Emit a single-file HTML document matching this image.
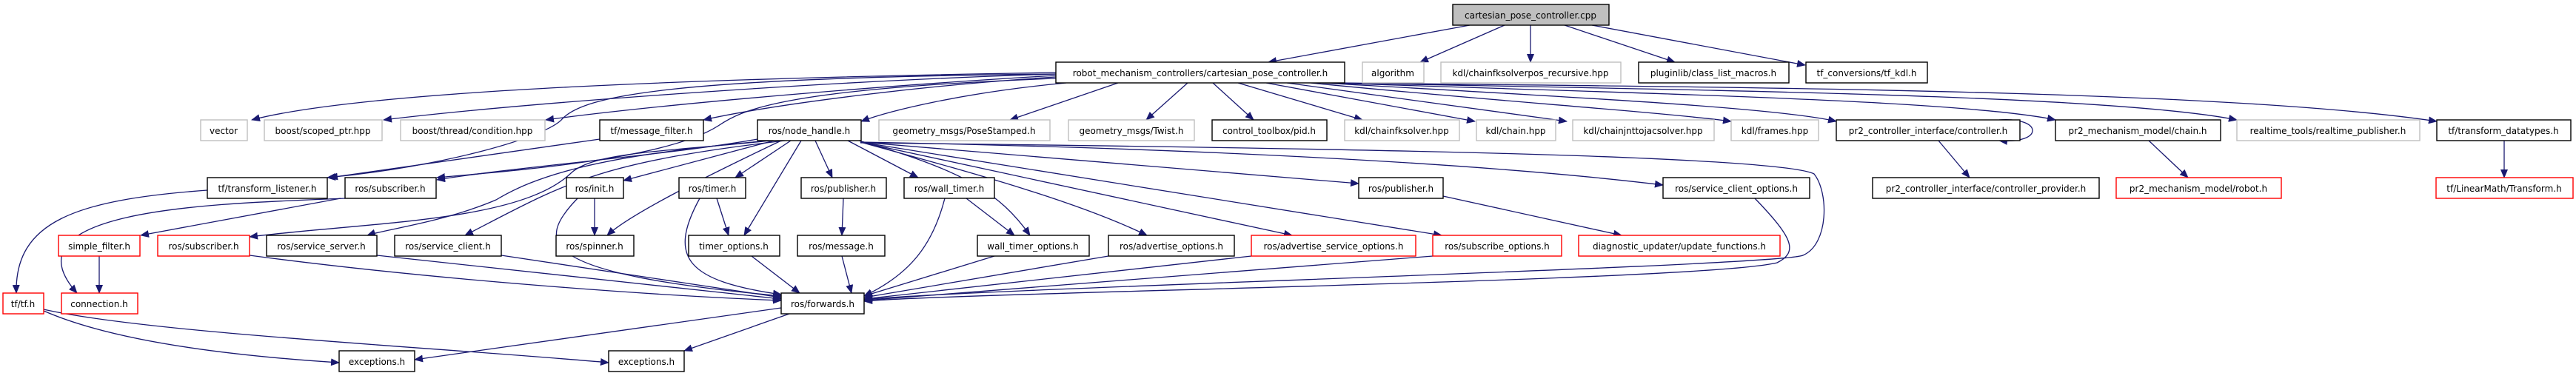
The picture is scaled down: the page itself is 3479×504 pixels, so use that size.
<!DOCTYPE html>
<html><head><meta charset="utf-8"><style>
html,body{margin:0;padding:0;background:#fff;}
svg{display:block;}
text{font-family:"DejaVu Sans","Liberation Sans",sans-serif;font-size:12px;fill:#000;text-anchor:middle;}
.b{fill:#fff;stroke:#000;stroke-width:1.4;}
.g{fill:#fff;stroke:#bfbfbf;stroke-width:1.4;}
.r{fill:#fff;stroke:#ff0000;stroke-width:1.4;}
.e path{fill:none;stroke:#191970;stroke-width:1.3;}
</style></head><body>
<svg width="3479" height="504" viewBox="0 0 3479 504" xmlns="http://www.w3.org/2000/svg">
<defs><marker id="a" markerUnits="userSpaceOnUse" markerWidth="12" markerHeight="10" refX="11" refY="5" orient="auto"><path d="M0,0 L12,5 L0,10 z" fill="#191970"/></marker></defs>
<g class="e">
<path d="M1985,34 L1713,84" marker-end="url(#a)"/>
<path d="M2032,34 L1918,84" marker-end="url(#a)"/>
<path d="M2067,34 L2067,84" marker-end="url(#a)"/>
<path d="M2113,34 L2262,84" marker-end="url(#a)"/>
<path d="M2150,34 L2438,88" marker-end="url(#a)"/>
<path d="M1426,98 C1000,105 500,120 340,162" marker-end="url(#a)"/>
<path d="M1426,100 C1100,110 700,140 518,162" marker-end="url(#a)"/>
<path d="M1426,102 C1200,115 900,140 737,162" marker-end="url(#a)"/>
<path d="M1426,104 C1250,115 1050,140 950,162" marker-end="url(#a)"/>
<path d="M1440,112 C1300,125 1200,150 1163,164" marker-end="url(#a)"/>
<path d="M1426,100 C900,105 790,130 760,160 C740,185 600,225 442,240" marker-end="url(#a)"/>
<path d="M1426,106 C1050,120 1000,150 970,170 C900,215 700,230 590,240" marker-end="url(#a)"/>
<path d="M1510,112 L1364,162" marker-end="url(#a)"/>
<path d="M1604,112 L1548,162" marker-end="url(#a)"/>
<path d="M1638,112 L1693,162" marker-end="url(#a)"/>
<path d="M1672,112 L1840,162" marker-end="url(#a)"/>
<path d="M1710,112 L1992,164" marker-end="url(#a)"/>
<path d="M1738,112 L2116,164" marker-end="url(#a)"/>
<path d="M1770,112 C2000,135 2250,152 2338,164" marker-end="url(#a)"/>
<path d="M1785,112 C2100,130 2400,145 2480,164" marker-end="url(#a)"/>
<path d="M1795,112 C2200,126 2650,135 2776,162" marker-end="url(#a)"/>
<path d="M1805,112 C2300,122 2850,128 3021,162" marker-end="url(#a)"/>
<path d="M1812,112 C2300,118 3000,120 3291,164" marker-end="url(#a)"/>
<path d="M1023,188 C900,210 700,225 590,243" marker-end="url(#a)"/>
<path d="M1040,190 C900,205 800,205 770,235 C700,300 500,300 337,320" marker-end="url(#a)"/>
<path d="M1040,190 C800,210 720,240 670,270 C600,300 520,310 496,318" marker-end="url(#a)"/>
<path d="M1060,190 C800,220 760,250 628,318" marker-end="url(#a)"/>
<path d="M1045,190 L842,244" marker-end="url(#a)"/>
<path d="M1055,190 C950,240 850,290 820,318" marker-end="url(#a)"/>
<path d="M1068,190 L993,240" marker-end="url(#a)"/>
<path d="M1082,190 L1005,318" marker-end="url(#a)"/>
<path d="M1101,190 L1124,240" marker-end="url(#a)"/>
<path d="M1145,190 L1240,240" marker-end="url(#a)"/>
<path d="M1160,190 C1300,230 1350,260 1391,318" marker-end="url(#a)"/>
<path d="M1162,192 C1300,230 1450,270 1549,318" marker-end="url(#a)"/>
<path d="M1162,192 L1745,318" marker-end="url(#a)"/>
<path d="M1162,192 L1947,318" marker-end="url(#a)"/>
<path d="M1162,192 L1835,248" marker-end="url(#a)"/>
<path d="M1162,192 C1600,200 2000,220 2246,250" marker-end="url(#a)"/>
<path d="M1162,193 C1800,200 2400,210 2450,235 C2470,260 2470,330 2435,345 C2400,360 1300,390 1167,405" marker-end="url(#a)"/>
<path d="M810,188 L445,240" marker-end="url(#a)"/>
<path d="M280,257 C100,270 20,300 22,396" marker-end="url(#a)"/>
<path d="M466,268 C300,275 0,280 104,396" marker-end="url(#a)"/>
<path d="M460,268 L190,318" marker-end="url(#a)"/>
<path d="M134,346 L134,396" marker-end="url(#a)"/>
<path d="M337,345 C600,380 900,400 1055,406" marker-end="url(#a)"/>
<path d="M509,345 L1055,404" marker-end="url(#a)"/>
<path d="M677,345 L1055,402" marker-end="url(#a)"/>
<path d="M780,268 C720,330 730,370 1055,400" marker-end="url(#a)"/>
<path d="M803,268 L803,318" marker-end="url(#a)"/>
<path d="M945,268 C900,350 930,380 1055,398" marker-end="url(#a)"/>
<path d="M968,268 L984,318" marker-end="url(#a)"/>
<path d="M1015,346 L1080,396" marker-end="url(#a)"/>
<path d="M1139,268 L1137,318" marker-end="url(#a)"/>
<path d="M1137,346 L1150,396" marker-end="url(#a)"/>
<path d="M1305,268 L1370,318" marker-end="url(#a)"/>
<path d="M1276,268 C1260,330 1230,370 1167,400" marker-end="url(#a)"/>
<path d="M1343,346 L1167,400" marker-end="url(#a)"/>
<path d="M1497,346 L1167,402" marker-end="url(#a)"/>
<path d="M1690,346 L1167,404" marker-end="url(#a)"/>
<path d="M1935,346 L1167,406" marker-end="url(#a)"/>
<path d="M2370,268 C2420,320 2430,340 2400,355 C2300,380 1300,395 1167,407" marker-end="url(#a)"/>
<path d="M1949,265 L2190,318" marker-end="url(#a)"/>
<path d="M1055,416 L560,486" marker-end="url(#a)"/>
<path d="M1066,424 L924,474" marker-end="url(#a)"/>
<path d="M59,420 C150,460 300,480 458,490" marker-end="url(#a)"/>
<path d="M59,418 C200,450 600,470 822,490" marker-end="url(#a)"/>
<path d="M2618,190 L2660,240" marker-end="url(#a)"/>
<path d="M2700,162 C2760,158 2760,195 2700,190" marker-end="url(#a)"/>
<path d="M2902,190 L2955,240" marker-end="url(#a)"/>
<path d="M3382,190 L3382,240" marker-end="url(#a)"/>
</g>
<rect x="1962" y="6" width="211" height="28" fill="#bfbfbf" stroke="#000" stroke-width="1.4"/><text x="2067" y="25">cartesian_pose_controller.cpp</text>
<rect class="b" x="1426" y="84" width="390" height="28"/><text x="1621" y="103">robot_mechanism_controllers/cartesian_pose_controller.h</text>
<rect class="g" x="1840" y="84" width="83" height="28"/><text x="1881" y="103">algorithm</text>
<rect class="g" x="1946" y="84" width="243" height="28"/><text x="2067" y="103">kdl/chainfksolverpos_recursive.hpp</text>
<rect class="b" x="2213" y="84" width="203" height="28"/><text x="2314" y="103">pluginlib/class_list_macros.h</text>
<rect class="b" x="2439" y="84" width="164" height="28"/><text x="2521" y="103">tf_conversions/tf_kdl.h</text>
<rect class="g" x="271" y="162" width="63" height="28"/><text x="302" y="181">vector</text>
<rect class="g" x="357" y="162" width="159" height="28"/><text x="436" y="181">boost/scoped_ptr.hpp</text>
<rect class="g" x="541" y="162" width="195" height="28"/><text x="638" y="181">boost/thread/condition.hpp</text>
<rect class="b" x="810" y="162" width="140" height="28"/><text x="880" y="181">tf/message_filter.h</text>
<rect class="b" x="1023" y="162" width="140" height="28"/><text x="1093" y="181">ros/node_handle.h</text>
<rect class="g" x="1187" y="162" width="231" height="28"/><text x="1302" y="181">geometry_msgs/PoseStamped.h</text>
<rect class="g" x="1443" y="162" width="170" height="28"/><text x="1528" y="181">geometry_msgs/Twist.h</text>
<rect class="b" x="1637" y="162" width="155" height="28"/><text x="1714" y="181">control_toolbox/pid.h</text>
<rect class="g" x="1816" y="162" width="155" height="28"/><text x="1893" y="181">kdl/chainfksolver.hpp</text>
<rect class="g" x="1994" y="162" width="107" height="28"/><text x="2047" y="181">kdl/chain.hpp</text>
<rect class="g" x="2124" y="162" width="191" height="28"/><text x="2219" y="181">kdl/chainjnttojacsolver.hpp</text>
<rect class="g" x="2338" y="162" width="118" height="28"/><text x="2397" y="181">kdl/frames.hpp</text>
<rect class="b" x="2480" y="162" width="248" height="28"/><text x="2604" y="181">pr2_controller_interface/controller.h</text>
<rect class="b" x="2776" y="162" width="223" height="28"/><text x="2887" y="181">pr2_mechanism_model/chain.h</text>
<rect class="g" x="3021" y="162" width="247" height="28"/><text x="3144" y="181">realtime_tools/realtime_publisher.h</text>
<rect class="b" x="3291" y="162" width="181" height="28"/><text x="3381" y="181">tf/transform_datatypes.h</text>
<rect class="b" x="280" y="240" width="162" height="28"/><text x="361" y="259">tf/transform_listener.h</text>
<rect class="b" x="466" y="240" width="123" height="28"/><text x="527" y="259">ros/subscriber.h</text>
<rect class="b" x="765" y="240" width="77" height="28"/><text x="803" y="259">ros/init.h</text>
<rect class="b" x="917" y="240" width="90" height="28"/><text x="962" y="259">ros/timer.h</text>
<rect class="b" x="1082" y="240" width="115" height="28"/><text x="1139" y="259">ros/publisher.h</text>
<rect class="b" x="1221" y="240" width="122" height="28"/><text x="1282" y="259">ros/wall_timer.h</text>
<rect class="b" x="1835" y="240" width="114" height="28"/><text x="1892" y="259">ros/publisher.h</text>
<rect class="b" x="2246" y="240" width="198" height="28"/><text x="2345" y="259">ros/service_client_options.h</text>
<rect class="b" x="2529" y="240" width="306" height="28"/><text x="2682" y="259">pr2_controller_interface/controller_provider.h</text>
<rect class="r" x="2858" y="240" width="223" height="28"/><text x="2969" y="259">pr2_mechanism_model/robot.h</text>
<rect class="r" x="3290" y="240" width="185" height="28"/><text x="3382" y="259">tf/LinearMath/Transform.h</text>
<rect class="r" x="79" y="318" width="110" height="28"/><text x="134" y="337">simple_filter.h</text>
<rect class="r" x="213" y="318" width="124" height="28"/><text x="275" y="337">ros/subscriber.h</text>
<rect class="b" x="360" y="318" width="149" height="28"/><text x="434" y="337">ros/service_server.h</text>
<rect class="b" x="533" y="318" width="144" height="28"/><text x="605" y="337">ros/service_client.h</text>
<rect class="b" x="751" y="318" width="105" height="28"/><text x="803" y="337">ros/spinner.h</text>
<rect class="b" x="930" y="318" width="123" height="28"/><text x="991" y="337">timer_options.h</text>
<rect class="b" x="1077" y="318" width="118" height="28"/><text x="1136" y="337">ros/message.h</text>
<rect class="b" x="1320" y="318" width="151" height="28"/><text x="1395" y="337">wall_timer_options.h</text>
<rect class="b" x="1497" y="318" width="170" height="28"/><text x="1582" y="337">ros/advertise_options.h</text>
<rect class="r" x="1690" y="318" width="222" height="28"/><text x="1801" y="337">ros/advertise_service_options.h</text>
<rect class="r" x="1935" y="318" width="174" height="28"/><text x="2022" y="337">ros/subscribe_options.h</text>
<rect class="r" x="2132" y="318" width="272" height="28"/><text x="2268" y="337">diagnostic_updater/update_functions.h</text>
<rect class="r" x="4" y="396" width="55" height="28"/><text x="31" y="415">tf/tf.h</text>
<rect class="r" x="83" y="396" width="103" height="28"/><text x="134" y="415">connection.h</text>
<rect class="b" x="1055" y="396" width="112" height="28"/><text x="1111" y="415">ros/forwards.h</text>
<rect class="b" x="458" y="474" width="102" height="28"/><text x="509" y="493">exceptions.h</text>
<rect class="b" x="822" y="474" width="102" height="28"/><text x="873" y="493">exceptions.h</text>
</svg>
</body></html>
